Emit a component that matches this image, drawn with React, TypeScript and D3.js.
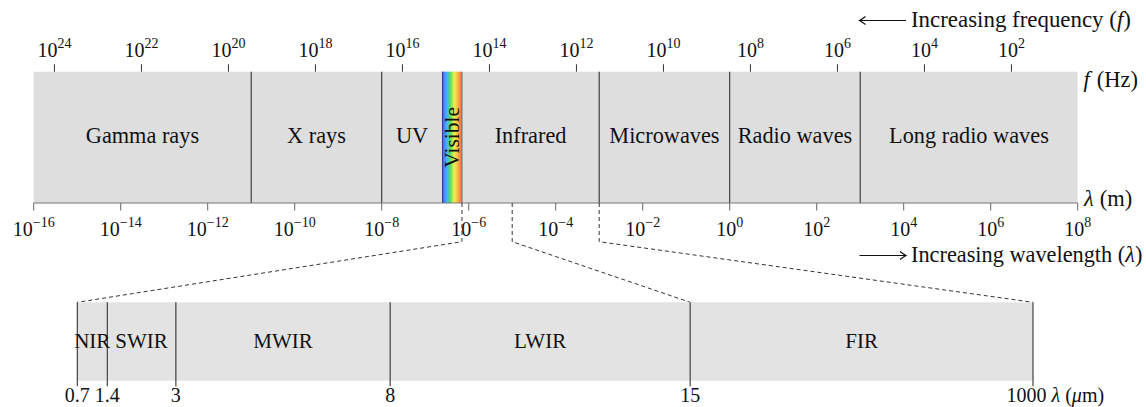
import React from 'react';
import * as d3 from 'd3';

// ---- data ----
const bandNames = ['Gamma rays', 'X rays', 'UV', 'Visible', 'Infrared', 'Microwaves', 'Radio waves', 'Long radio waves'];
const bandEdges = [1e-16, 1e-11, 1e-8, 2.5e-7, 7e-7, 1e-3, 1, 1e3, 1e8]; // wavelength, m
const wavelengthTickExps = [-16, -14, -12, -10, -8, -6, -4, -2, 0, 2, 4, 6, 8];
const frequencyTickExps = [24, 22, 20, 18, 16, 14, 12, 10, 8, 6, 4, 2];
const SPEED_OF_LIGHT = 2.998e8;

const irNames = ['NIR', 'SWIR', 'MWIR', 'LWIR', 'FIR'];
const irEdges = [0.7, 1.4, 3, 8, 15, 1000]; // µm
const firDisplayWidth = 8; // µm-equivalent width used to draw the (broken) FIR segment
const zoomLinksUpper = [7e-7, 1e-5, 1e-3]; // m, on the full spectrum
const zoomLinksLower = [0.7, 15, 1000]; // µm, on the infrared detail

const visibleStops = ['#4a5cff', '#45b0ff', '#55dd66', '#eef24a', '#ffb04a', '#ff5f45'];

const FONT = '"Liberation Serif", "Times New Roman", serif';

function Pow({ x, y, base = '10', exp, size = 20 }: { x: number; y: number; base?: string; exp: number; size?: number }) {
  const e = exp < 0 ? '\u2212' + Math.abs(exp) : String(exp);
  return (
    <text x={x} y={y} textAnchor="middle" fontSize={size} fontFamily={FONT} fill="#111">
      <tspan>{base}</tspan>
      <tspan dy={-9} fontSize={size * 0.7}>{e}</tspan>
    </text>
  );
}

function Arrow({ x1, x2, y }: { x1: number; x2: number; y: number }) {
  const dir = Math.sign(x2 - x1);
  return (
    <g stroke="#111" strokeWidth={1.2} fill="none">
      <line x1={x1} x2={x2} y1={y} y2={y} />
      <path d={`M${x2 - dir * 6},${y - 4} Q${x2 - dir * 2},${y - 1} ${x2},${y} Q${x2 - dir * 2},${y + 1} ${x2 - dir * 6},${y + 4}`} />
    </g>
  );
}

export default function App() {
  const W = 1146;
  const H = 407;
  const up = { left: 33.7, right: 1077.7, y0: 71.7, y1: 203 };
  const lo = { left: 77.3, right: 1033, y0: 302.3, y1: 380.7 };

  const x = d3.scaleLog().domain([bandEdges[0], bandEdges[bandEdges.length - 1]]).range([up.left, up.right]);
  const n = irEdges.length;
  const k = (lo.right - lo.left) / (irEdges[n - 2] - irEdges[0] + firDisplayWidth);
  const xl = d3
    .scaleLinear()
    .domain([irEdges[0], irEdges[n - 2], irEdges[n - 1]])
    .range([lo.left, lo.left + (irEdges[n - 2] - irEdges[0]) * k, lo.right]);

  const upMid = (up.y0 + up.y1) / 2;
  const loMid = (lo.y0 + lo.y1) / 2;
  const visIdx = bandNames.indexOf('Visible');

  return (
    <svg width={W} height={H} style={{ position: 'absolute', left: 0, top: 0, background: '#fff' }}>
      <defs>
        <linearGradient id="vis" x1="0" x2="1" y1="0" y2="0">
          {visibleStops.map((c, i) => (
            <stop key={i} offset={i / (visibleStops.length - 1)} stopColor={c} />
          ))}
        </linearGradient>
      </defs>

      {/* upper bar */}
      <rect x={up.left} y={up.y0} width={up.right - up.left} height={up.y1 - up.y0} fill="#dedede" />
      <rect
        x={x(bandEdges[visIdx])}
        y={up.y0}
        width={x(bandEdges[visIdx + 1]) - x(bandEdges[visIdx])}
        height={up.y1 - up.y0}
        fill="url(#vis)"
      />
      {bandEdges.slice(1, -1).map((b, i) => (
        <line
          key={i}
          x1={x(b)}
          x2={x(b)}
          y1={up.y0}
          y2={up.y1}
          stroke={i + 1 === visIdx ? '#3a3aa0' : i + 1 === visIdx + 1 ? '#777' : '#333'}
          strokeWidth={1.1}
        />
      ))}
      {bandNames.map((name, i) => {
        const cx = (x(bandEdges[i]) + x(bandEdges[i + 1])) / 2;
        if (i === visIdx)
          return (
            <text
              key={name}
              transform={`translate(${cx},${upMid}) rotate(-90)`}
              textAnchor="middle"
              dy="0.33em"
              fontSize={21.5}
              fontFamily={FONT}
              fill="#111"
            >
              {name}
            </text>
          );
        return (
          <text key={name} x={cx} y={upMid} dy="0.26em" textAnchor="middle" fontSize={22.3} fontFamily={FONT} fill="#111">
            {name}
          </text>
        );
      })}

      {/* frequency axis (top) */}
      {frequencyTickExps.map((e) => {
        const px = x(SPEED_OF_LIGHT / Math.pow(10, e));
        return (
          <g key={'f' + e}>
            <line x1={px} x2={px} y1={up.y0 - 7.5} y2={up.y0} stroke="#333" strokeWidth={1} />
            <Pow x={px} y={57.3} exp={e} />
          </g>
        );
      })}
      <text x={1083.5} y={87.3} fontSize={22.5} fontFamily={FONT} fill="#111">
        <tspan fontStyle="italic">f</tspan>
        <tspan dx={7}>(Hz)</tspan>
      </text>

      {/* wavelength axis (bottom) */}
      <line x1={up.left} x2={up.right} y1={up.y1} y2={up.y1} stroke="#777" strokeWidth={1.2} />
      {wavelengthTickExps.map((e) => {
        const px = x(Math.pow(10, e));
        return (
          <g key={'w' + e}>
            <line x1={px} x2={px} y1={up.y1} y2={up.y1 + 7.5} stroke="#666" strokeWidth={1} />
            <Pow x={px} y={235.7} exp={e} />
          </g>
        );
      })}
      <text x={1084} y={206} fontSize={22.5} fontFamily={FONT} fill="#111">
        <tspan fontStyle="italic">λ</tspan>
        <tspan dx={6}>(m)</tspan>
      </text>

      {/* direction annotations */}
      <Arrow x1={906} x2={859.5} y={20.5} />
      <text x={911} y={26.5} fontSize={22.9} fontFamily={FONT} fill="#111">
        Increasing frequency (<tspan fontStyle="italic">f</tspan>)
      </text>
      <Arrow x1={859.5} x2={906} y={255.5} />
      <text x={911} y={261.5} fontSize={22.3} fontFamily={FONT} fill="#111">
        Increasing wavelength (<tspan fontStyle="italic">λ</tspan>)
      </text>

      {/* zoom connectors */}
      {zoomLinksUpper.map((u, i) => {
        const ux = x(u);
        const lx = xl(zoomLinksLower[i]);
        return (
          <path
            key={'z' + i}
            d={`M${ux},${up.y1} V${up.y1 + 38.7} L${lx},${lo.y0}`}
            fill="none"
            stroke="#333"
            strokeWidth={1}
            strokeDasharray="4,3"
          />
        );
      })}

      {/* infrared detail bar */}
      <rect x={lo.left} y={lo.y0} width={lo.right - lo.left} height={lo.y1 - lo.y0} fill="#e3e3e3" />
      {irEdges.map((v, i) => {
        const last = i === n - 1;
        return (
          <g key={'ir' + v}>
            <line x1={xl(v)} x2={xl(v)} y1={lo.y0} y2={lo.y1 + 5.5} stroke="#333" strokeWidth={1.1} />
            <text
              x={last ? xl(v) - 26.5 : xl(v)}
              y={401.7}
              textAnchor={last ? 'start' : 'middle'}
              fontSize={20}
              fontFamily={FONT}
              fill="#111"
            >
              {String(v)}
              {last && (
                <>
                  <tspan dx={5} fontStyle="italic">λ</tspan>
                  <tspan dx={5}>(</tspan>
                  <tspan fontStyle="italic">μ</tspan>
                  <tspan>m)</tspan>
                </>
              )}
            </text>
          </g>
        );
      })}
      {irNames.map((name, i) => (
        <text
          key={name}
          x={(xl(irEdges[i]) + xl(irEdges[i + 1])) / 2}
          y={loMid}
          dy="0.33em"
          textAnchor="middle"
          fontSize={21}
          fontFamily={FONT}
          fill="#111"
        >
          {name}
        </text>
      ))}
    </svg>
  );
}
